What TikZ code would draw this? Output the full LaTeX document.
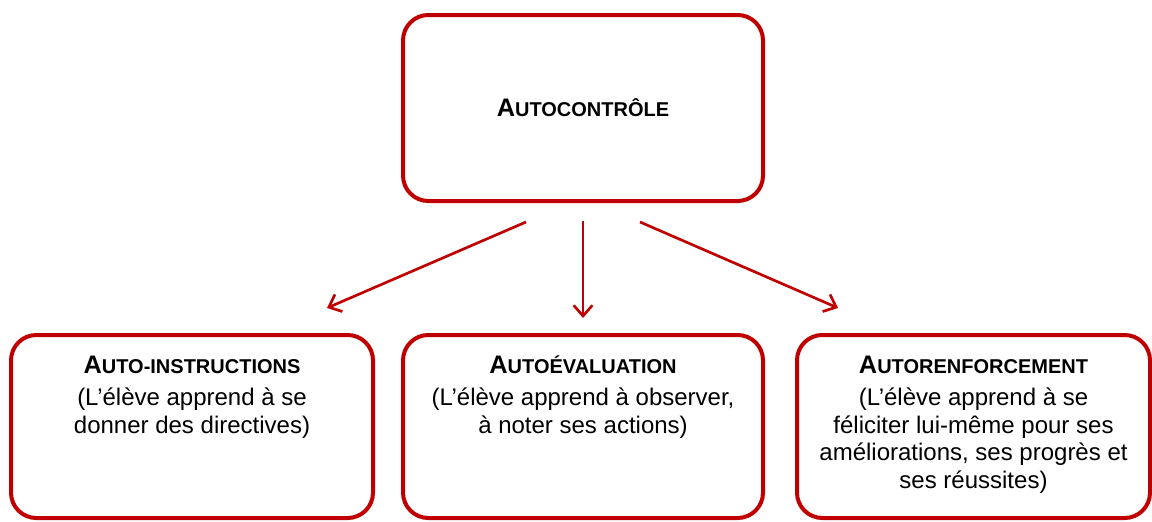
\documentclass[tikz,border=0pt]{standalone}
\usepackage{fontspec}
\setmainfont{Liberation Sans}
\usepackage{tikz}
\usepackage{xcolor}
\usetikzlibrary{arrows.meta}
\definecolor{boxred}{RGB}{192,0,0}
\newcommand{\sctitle}[2]{{\bfseries\fontsize{19}{20}\selectfont #1\fontsize{15}{20}\selectfont #2}}

\begin{document}
\begin{tikzpicture}[x=0.75pt,y=-0.75pt,
	box/.style={draw=boxred,line width=3pt,outer sep=0pt,rounded corners=19pt,minimum height=137.25pt},
	txt/.style={inner sep=0pt,align=center,font=\fontsize{18}{20.6}\selectfont},
	arr/.style={draw=boxred,line width=2pt,-{Straight Barb[length=8pt,width=14pt,line width=2pt]}}]
	\useasboundingbox (0,0) rectangle (1152,521);

	% (top)
	\node[box,minimum width=270pt,minimum height=139.5pt] (ctrl) at (583,108) {\sctitle{A}{UTOCONTRÔLE}};

	% (bottom row)
	\node[box,minimum width=271.5pt] (instr) at (192,426.5) {};
	\node[box,minimum width=270pt] (eval) at (583,426.5) {};
	\node[box,minimum width=264.75pt] (renf) at (973.5,426.5) {};

	\node[txt,anchor=north] (instrtxt) at ([yshift=-15.75pt]instr.north) {\sctitle{A}{UTO-INSTRUCTIONS}\\[3.4pt]
		(L’élève apprend à se\\ donner des directives)};
	\node[txt,anchor=north] (evaltxt) at ([yshift=-15.75pt]eval.north) {\sctitle{A}{UTOÉVALUATION}\\[3.4pt]
		(L’élève apprend à observer,\\ à noter ses actions)};
	\node[txt,anchor=north] (renftxt) at ([yshift=-15.75pt]renf.north) {\sctitle{A}{UTORENFORCEMENT}\\[3.4pt]
		(L’élève apprend à se\\ féliciter lui-même pour ses\\ améliorations, ses progrès et\\ ses réussites)};

	% (arrows)
	\coordinate (l0) at (526,222);
	\coordinate (l1) at (327,308);
	\coordinate (m0) at (583,221);
	\coordinate (m1) at (583,318);
	\coordinate (r0) at (640,222);
	\coordinate (r1) at (838,308);
	\draw[arr] (l0) -- (l1);
	\draw[arr] (m0) -- (m1);
	\draw[arr] (r0) -- (r1);

\end{tikzpicture}
\end{document}
